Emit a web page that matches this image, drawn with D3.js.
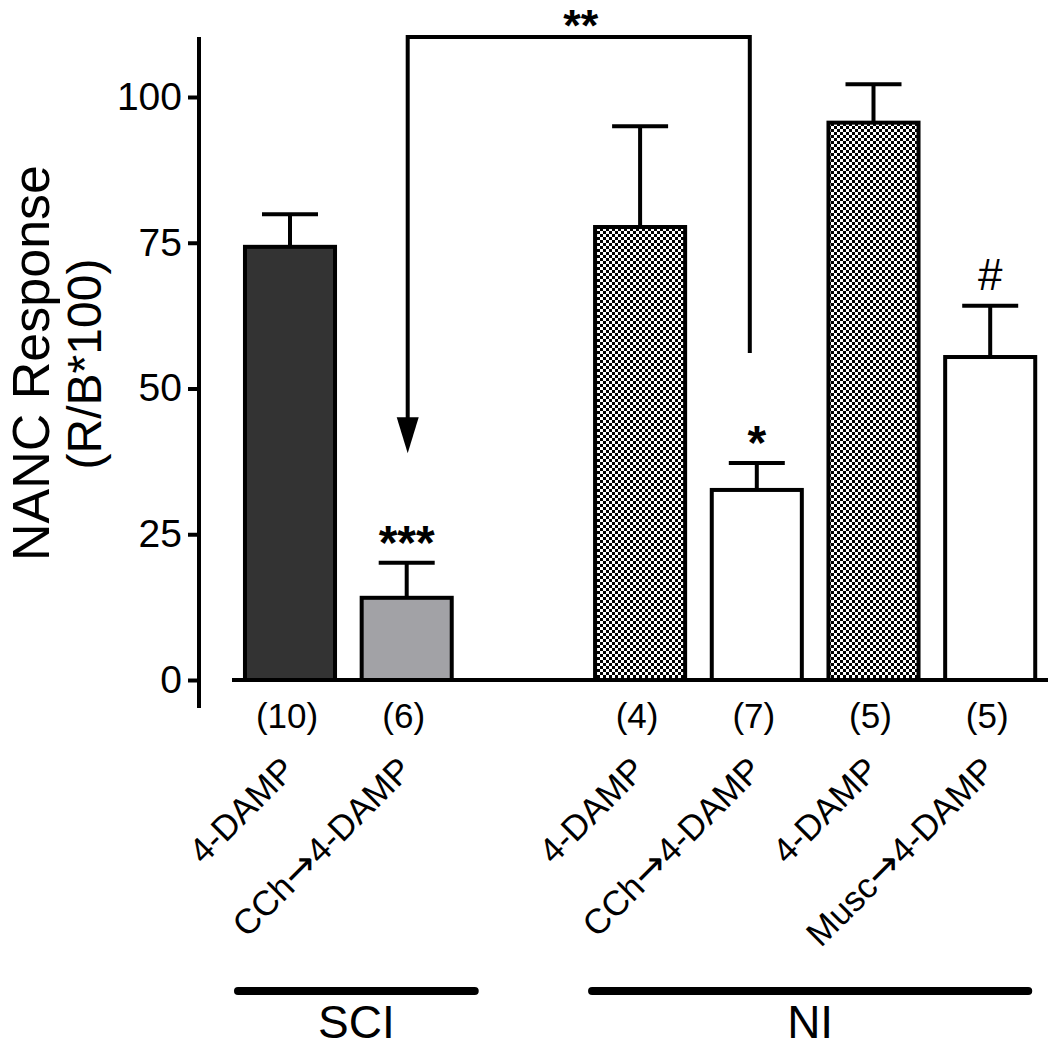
<!DOCTYPE html>
<html>
<head>
<meta charset="utf-8">
<script src="https://cdn.jsdelivr.net/npm/d3@7"></script>
<style>
  html, body { margin: 0; padding: 0; background: #fff; }
  svg text { font-family: "Liberation Sans", Arial, sans-serif; fill: #000; }
</style>
</head>
<body>
<svg id="chart" width="1050" height="1048"></svg>
<script>
// ---- data ----
const categories = ["SCI 4-DAMP", "SCI CCh→4-DAMP", "NI 4-DAMP", "NI CCh→4-DAMP", "NI 4-DAMP b", "NI Musc→4-DAMP"];
const tickLabels = ["4-DAMP", "CCh→4-DAMP", "4-DAMP", "CCh→4-DAMP", "4-DAMP", "Musc→4-DAMP"];
const means = [74.3, 14.1, 77.7, 32.6, 95.6, 55.4];
const sems = [5.6, 6.0, 17.3, 4.6, 6.6, 8.8];
const nLabels = ["(10)", "(6)", "(4)", "(7)", "(5)", "(5)"];
const sigLabels = ["", "***", "", "*", "", "#"];
const yTicks = [0, 25, 50, 75, 100];
const groupNames = ["SCI", "NI"];
const groupFirst = ["SCI 4-DAMP", "NI 4-DAMP"];
const groupLast = ["SCI CCh→4-DAMP", "NI Musc→4-DAMP"];
const bracketFrom = "SCI CCh→4-DAMP";
const bracketTo = "NI CCh→4-DAMP";
const bracketTop = 110.3;
const bracketRightEnd = 56.1;
const bracketArrowTip = 38.9;
const bracketLabel = "**";

// ---- scales ----
const slots = [categories[0], categories[1], "gap", categories[2], categories[3], categories[4], categories[5]];
const x = d3.scaleBand().domain(slots).range([231.65, 1048.55]).paddingInner(0.194).paddingOuter(0.097);
const y = d3.scaleLinear().domain([0, 100]).range([680, 97]);
const cx = c => x(c) + x.bandwidth() / 2;

const svg = d3.select("#chart");
const defs = svg.append("defs");
const pat = defs.append("pattern").attr("id", "checker").attr("patternUnits", "userSpaceOnUse")
  .attr("width", 6).attr("height", 6);
pat.append("rect").attr("width", 6).attr("height", 6).attr("fill", "#fff");
pat.append("rect").attr("width", 3).attr("height", 3).attr("fill", "#000");
pat.append("rect").attr("x", 3).attr("y", 3).attr("width", 3).attr("height", 3).attr("fill", "#000");

const fill = d3.scaleOrdinal().domain(categories)
  .range(["#333333", "#a2a2a6", "url(#checker)", "#ffffff", "url(#checker)", "#ffffff"]);

// ---- y axis ----
const yAxis = d3.axisLeft(y).tickValues(yTicks).tickSize(11).tickPadding(6).tickSizeOuter(0);
const ag = svg.append("g").attr("transform", "translate(199,0)").call(yAxis);
ag.select(".domain").remove();
ag.selectAll(".tick line").attr("stroke", "#000").attr("stroke-width", 4);
ag.selectAll(".tick text").attr("font-size", 39).attr("font-family", "Liberation Sans, Arial, sans-serif").attr("fill", "#000");
svg.append("line").attr("x1", 199).attr("x2", 199).attr("y1", y(bracketTop)).attr("y2", y(-4.8))
  .attr("stroke", "#000").attr("stroke-width", 4);

// y title
svg.append("text").attr("transform", `translate(49,${363}) rotate(-90)`).attr("text-anchor", "middle")
  .attr("font-size", 52).text("NANC Response");
svg.append("text").attr("transform", `translate(101,${364}) rotate(-90)`).attr("text-anchor", "middle")
  .attr("font-size", 48).text("(R/B*100)");

// ---- bars ----
const idx = d3.range(categories.length);
svg.append("g").selectAll("rect").data(idx).join("rect")
  .attr("x", i => x(categories[i]) + 2)
  .attr("y", i => y(means[i]))
  .attr("width", x.bandwidth() - 4)
  .attr("height", i => y(0) - y(means[i]))
  .attr("fill", i => fill(categories[i]))
  .attr("stroke", "#000").attr("stroke-width", 4);

// error bars
const eg = svg.append("g").attr("stroke", "#000").attr("stroke-width", 4);
eg.selectAll("line.v").data(idx).join("line").attr("class", "v")
  .attr("x1", i => cx(categories[i])).attr("x2", i => cx(categories[i]))
  .attr("y1", i => y(means[i])).attr("y2", i => y(means[i] + sems[i]));
eg.selectAll("line.c").data(idx).join("line").attr("class", "c")
  .attr("x1", i => cx(categories[i]) - 28).attr("x2", i => cx(categories[i]) + 28)
  .attr("y1", i => y(means[i] + sems[i])).attr("y2", i => y(means[i] + sems[i]));

// baseline
svg.append("line").attr("x1", 232).attr("x2", 1048).attr("y1", y(0)).attr("y2", y(0))
  .attr("stroke", "#000").attr("stroke-width", 4);

// significance labels
svg.append("g").selectAll("text").data(idx.filter(i => sigLabels[i])).join("text")
  .attr("x", i => cx(categories[i]))
  .attr("y", i => y(means[i] + sems[i]) - (sigLabels[i] === "#" ? 16 : 4))
  .attr("text-anchor", "middle")
  .attr("font-size", i => sigLabels[i] === "#" ? 44 : 48)
  .attr("font-weight", i => sigLabels[i] === "#" ? "normal" : "bold")
  .text(i => sigLabels[i]);

// n labels
svg.append("g").selectAll("text").data(idx).join("text")
  .attr("x", i => cx(categories[i]) - 3).attr("y", 728)
  .attr("text-anchor", "middle").attr("font-size", 35)
  .text(i => nLabels[i]);

// rotated category labels (arrow glyph drawn in DejaVu Sans, like the reference's long thin arrow)
const rl = svg.append("g").selectAll("text").data(idx).join("text")
  .attr("transform", i => `translate(${cx(categories[i]) + 7},772) rotate(-45)`)
  .attr("text-anchor", "end").attr("font-size", 35);
rl.each(function(i) {
  const parts = tickLabels[i].split("→");
  const t = d3.select(this);
  parts.forEach((p, k) => {
    if (k > 0) t.append("tspan").style("font-family", "DejaVu Sans").attr("font-size", 40).attr("dy", 1).text("→");
    t.append("tspan").attr("dy", k > 0 ? -1 : 0).text(p);
  });
});

// group bars
const gOff = [[-5, 21], [-1, -9]];
groupNames.forEach((g, k) => {
  const x1 = x(groupFirst[k]) + gOff[k][0];
  const x2 = x(groupLast[k]) + x.bandwidth() + gOff[k][1];
  svg.append("line").attr("x1", x1).attr("x2", x2).attr("y1", 991).attr("y2", 991)
    .attr("stroke", "#000").attr("stroke-width", 8).attr("stroke-linecap", "round");
  svg.append("text").attr("x", (x1 + x2) / 2).attr("y", 1038).attr("text-anchor", "middle")
    .attr("font-size", 46).text(g);
});

// bracket with arrow
const bx1 = cx(bracketFrom) + 1;
const bx2 = cx(bracketTo) - 7;
const tipY = y(bracketArrowTip);
svg.append("path")
  .attr("d", `M${bx1},${tipY - 34} L${bx1},${y(bracketTop)} L${bx2},${y(bracketTop)} L${bx2},${y(bracketRightEnd)}`)
  .attr("fill", "none").attr("stroke", "#000").attr("stroke-width", 4);
svg.append("path")
  .attr("d", `M${bx1 - 11},${tipY - 36} L${bx1 + 11},${tipY - 36} L${bx1},${tipY} Z`)
  .attr("fill", "#000");
svg.append("text").attr("x", (bx1 + bx2) / 2 + 2).attr("y", 41)
  .attr("text-anchor", "middle").attr("font-size", 45).attr("font-weight", "bold").text(bracketLabel);
</script>
</body>
</html>
